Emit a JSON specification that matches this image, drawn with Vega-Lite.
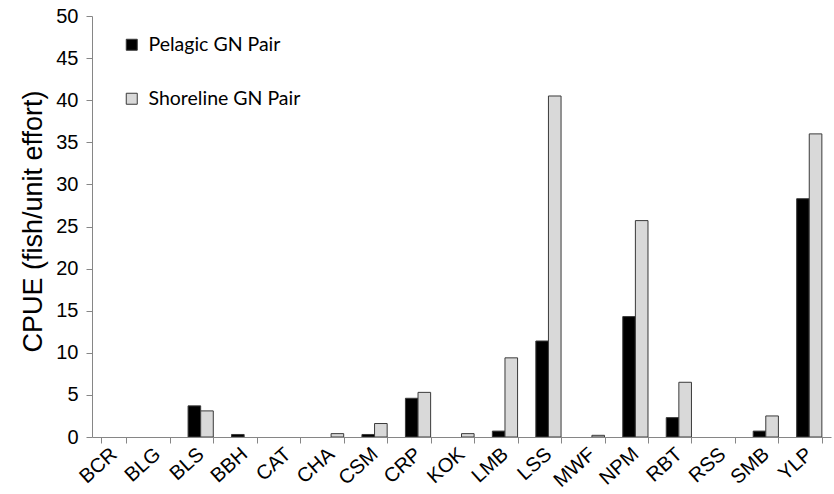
{
  "$schema": "https://vega.github.io/schema/vega-lite/v6.json",
  "width": 739,
  "height": 421,
  "autosize": "none",
  "padding": {"left": 92, "top": 16, "right": 3, "bottom": 57},
  "background": "white",
  "data": {
    "values": [
      {"species": "BCR", "gear": "Pelagic GN Pair", "cpue": 0},
      {"species": "BCR", "gear": "Shoreline GN Pair", "cpue": 0},
      {"species": "BLG", "gear": "Pelagic GN Pair", "cpue": 0},
      {"species": "BLG", "gear": "Shoreline GN Pair", "cpue": 0},
      {"species": "BLS", "gear": "Pelagic GN Pair", "cpue": 3.7},
      {"species": "BLS", "gear": "Shoreline GN Pair", "cpue": 3.1},
      {"species": "BBH", "gear": "Pelagic GN Pair", "cpue": 0.3},
      {"species": "BBH", "gear": "Shoreline GN Pair", "cpue": 0},
      {"species": "CAT", "gear": "Pelagic GN Pair", "cpue": 0},
      {"species": "CAT", "gear": "Shoreline GN Pair", "cpue": 0},
      {"species": "CHA", "gear": "Pelagic GN Pair", "cpue": 0},
      {"species": "CHA", "gear": "Shoreline GN Pair", "cpue": 0.4},
      {"species": "CSM", "gear": "Pelagic GN Pair", "cpue": 0.3},
      {"species": "CSM", "gear": "Shoreline GN Pair", "cpue": 1.6},
      {"species": "CRP", "gear": "Pelagic GN Pair", "cpue": 4.6},
      {"species": "CRP", "gear": "Shoreline GN Pair", "cpue": 5.3},
      {"species": "KOK", "gear": "Pelagic GN Pair", "cpue": 0},
      {"species": "KOK", "gear": "Shoreline GN Pair", "cpue": 0.4},
      {"species": "LMB", "gear": "Pelagic GN Pair", "cpue": 0.7},
      {"species": "LMB", "gear": "Shoreline GN Pair", "cpue": 9.4},
      {"species": "LSS", "gear": "Pelagic GN Pair", "cpue": 11.4},
      {"species": "LSS", "gear": "Shoreline GN Pair", "cpue": 40.5},
      {"species": "MWF", "gear": "Pelagic GN Pair", "cpue": 0},
      {"species": "MWF", "gear": "Shoreline GN Pair", "cpue": 0.2},
      {"species": "NPM", "gear": "Pelagic GN Pair", "cpue": 14.3},
      {"species": "NPM", "gear": "Shoreline GN Pair", "cpue": 25.7},
      {"species": "RBT", "gear": "Pelagic GN Pair", "cpue": 2.3},
      {"species": "RBT", "gear": "Shoreline GN Pair", "cpue": 6.5},
      {"species": "RSS", "gear": "Pelagic GN Pair", "cpue": 0},
      {"species": "RSS", "gear": "Shoreline GN Pair", "cpue": 0},
      {"species": "SMB", "gear": "Pelagic GN Pair", "cpue": 0.7},
      {"species": "SMB", "gear": "Shoreline GN Pair", "cpue": 2.5},
      {"species": "YLP", "gear": "Pelagic GN Pair", "cpue": 28.3},
      {"species": "YLP", "gear": "Shoreline GN Pair", "cpue": 36.0}
    ]
  },
  "transform": [{"filter": "datum.cpue > 0"}],
  "mark": {"type": "bar", "stroke": "#3a3a3a", "strokeWidth": 1},
  "encoding": {
    "x": {
      "field": "species",
      "type": "nominal",
      "sort": ["BCR", "BLG", "BLS", "BBH", "CAT", "CHA", "CSM", "CRP", "KOK", "LMB", "LSS", "MWF", "NPM", "RBT", "RSS", "SMB", "YLP"],
      "scale": {
        "domain": ["BCR", "BLG", "BLS", "BBH", "CAT", "CHA", "CSM", "CRP", "KOK", "LMB", "LSS", "MWF", "NPM", "RBT", "RSS", "SMB", "YLP"],
        "paddingInner": 0.42,
        "paddingOuter": 0.21
      },
      "axis": {
        "title": null,
        "tickBand": "extent",
        "labelAngle": -42,
        "labelAlign": "right",
        "labelBaseline": "middle",
        "labelPadding": 8,
        "labelFont": "Liberation Sans",
        "labelFontSize": 20,
        "labelColor": "#000000",
        "labelOverlap": false,
        "labelBound": false,
        "tickColor": "#868686",
        "tickSize": 6,
        "domainColor": "#868686",
        "zindex": 1
      }
    },
    "xOffset": {
      "field": "gear",
      "type": "nominal",
      "scale": {"domain": ["Pelagic GN Pair", "Shoreline GN Pair"]}
    },
    "y": {
      "field": "cpue",
      "type": "quantitative",
      "scale": {"domain": [0, 50], "nice": false},
      "axis": {
        "title": "CPUE (fish/unit effort)",
        "titleFont": "Liberation Sans",
        "titleFontSize": 27,
        "titleFontWeight": "normal",
        "titleColor": "#000000",
        "titlePadding": 8,
        "titleY": 205,
        "values": [0, 5, 10, 15, 20, 25, 30, 35, 40, 45, 50],
        "grid": false,
        "labelFont": "Liberation Sans",
        "labelFontSize": 20,
        "labelColor": "#000000",
        "labelPadding": 8,
        "tickColor": "#868686",
        "tickSize": 6,
        "domainColor": "#868686",
        "zindex": 1
      }
    },
    "color": {
      "field": "gear",
      "type": "nominal",
      "scale": {"domain": ["Pelagic GN Pair", "Shoreline GN Pair"], "range": ["#000000", "#d9d9d9"]},
      "legend": {
        "title": null,
        "orient": "none",
        "legendX": 30,
        "legendY": 19,
        "padding": 0,
        "symbolType": "square",
        "symbolSize": 121,
        "symbolStrokeColor": "#3a3a3a",
        "symbolStrokeWidth": 1,
        "rowPadding": 33,
        "labelFont": "Lato",
        "labelFontSize": 19.5,
        "labelColor": "#000000",
        "labelOffset": 7
      }
    }
  },
  "config": {"view": {"stroke": null}}
}
